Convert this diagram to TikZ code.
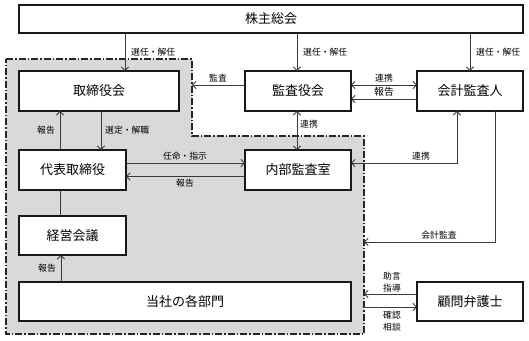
\documentclass[tikz,border=0pt]{standalone}
\usepackage{fontspec}
\newfontfamily\jp{Noto Sans CJK JP}
\usetikzlibrary{arrows.meta}
\definecolor{regiongray}{HTML}{D9D9D9}
\definecolor{linecol}{HTML}{3A3A3A}
\tikzset{
  box/.style={draw=black!90, line width=1.1pt, fill=white, inner sep=0pt, outer sep=0pt, font=\jp\fontsize{13}{15}\selectfont},
  arr/.style={draw=linecol, line width=0.9pt, -{Straight Barb[length=3.5pt,width=7.5pt]}},
  darr/.style={draw=linecol, line width=0.9pt, {Straight Barb[length=3.5pt,width=7.5pt]}-{Straight Barb[length=3.5pt,width=7.5pt]}},
  plain/.style={draw=linecol, line width=0.9pt},
  lbl/.style={font=\jp\fontsize{8.8}{10}\selectfont, inner sep=0pt, text=black},
  region/.style={fill=regiongray, draw=black!85, line width=1.2pt, dash pattern=on 7pt off 2pt on 1.5pt off 2pt}
}
\begin{document}
\begin{tikzpicture}[x=1pt, y=-1pt]
\useasboundingbox (0,0) rectangle (529,340);
% region
\draw[region] (6,59) -- (192,59) -- (192,136) -- (364,136) -- (364,334) -- (6,334) -- cycle;
\coordinate (regA) at (192,85);
\coordinate (regB) at (364,242);
\coordinate (regC) at (364,294);
\coordinate (regD) at (364,307);
% boxes
\node[box, minimum width=504pt, minimum height=28pt] (kabu) at (271,19) {株主総会};
\node[box, minimum width=160pt, minimum height=40pt] (tori) at (99,91) {取締役会};
\node[box, minimum width=106pt, minimum height=40pt] (kansa) at (298,91) {監査役会};
\node[box, minimum width=106pt, minimum height=40pt] (kaikei) at (470,91) {会計監査人};
\node[box, minimum width=107pt, minimum height=40pt] (daihyo) at (72.5,170) {代表取締役};
\node[box, minimum width=106pt, minimum height=40pt] (naibu) at (298,170) {内部監査室};
\node[box, minimum width=107pt, minimum height=39pt] (keiei) at (72.5,235.5) {経営会議};
\node[box, minimum width=332pt, minimum height=39pt] (bumon) at (185,301.5) {当社の各部門};
\node[box, minimum width=106pt, minimum height=39pt] (komon) at (470,301.5) {顧問弁護士};
% shareholders
\draw[arr] (kabu.south -| 125,0) -- (tori.north -| 125,0);
\node[lbl, anchor=west] (l1) at (131,52) {選任・解任};
\draw[arr] (kabu.south -| 297,0) -- (kansa.north -| 297,0);
\node[lbl, anchor=west] (l2) at (303,52) {選任・解任};
\draw[arr] (kabu.south -| 470,0) -- (kaikei.north -| 470,0);
\node[lbl, anchor=west] (l3) at (476,52) {選任・解任};
% kansa
\draw[arr] (kansa.west |- regA) -- (regA);
\node[lbl] (l4) at (218,78) {監査};
\draw[darr] (kansa.east |- 0,85) -- (kaikei.west |- 0,85);
\node[lbl] (l5) at (384,78) {連携};
\draw[arr] (kaikei.west |- 0,99) -- (kansa.east |- 0,99);
\node[lbl, font=\jp\fontsize{9.8}{11}\selectfont] (l6) at (384,92) {報告};
\draw[darr] (kansa.south -| 297,0) -- (naibu.north -| 297,0);
\node[lbl, anchor=west] (l7) at (300,124) {連携};
\draw[darr] (naibu.east |- 0,163) -- (457,163) -- (kaikei.south -| 457,0);
\node[lbl] (l8) at (421,156) {連携};
% daihyo / naibu
\draw[arr] (daihyo.east |- 0,163) -- (naibu.west |- 0,163);
\node[lbl] (l9) at (185,156) {任命・指示};
\draw[arr] (naibu.west |- 0,176.5) -- (daihyo.east |- 0,176.5);
\node[lbl] (l10) at (185,183.5) {報告};
% tori / daihyo
\draw[arr] (tori.south -| 101,0) -- (daihyo.north -| 101,0);
\node[lbl, anchor=west] (l11) at (105,130) {選定・解職};
\draw[arr] (daihyo.north -| 60,0) -- (tori.south -| 60,0);
\node[lbl, anchor=east] (l12) at (55,130) {報告};
\draw[plain] (daihyo.south -| 60,0) -- (keiei.north -| 60,0);
\draw[arr] (bumon.north -| 61,0) -- (keiei.south -| 61,0);
\node[lbl, anchor=east] (l13) at (56,268) {報告};
% kaikei audit
\draw[arr] (kaikei.south -| 495,0) -- (495,242) -- (regB);
\node[lbl] (l14) at (439,235.5) {会計監査};
% komon
\draw[arr] (komon.west |- regC) -- (regC);
\node[lbl] (l15) at (392,276) {助言};
\node[lbl] (l16) at (392,288) {指導};
\draw[arr] (regD) -- (komon.west |- regD);
\node[lbl] (l17) at (392,315.5) {確認};
\node[lbl] (l18) at (392,327.5) {相談};
\end{tikzpicture}
\end{document}
